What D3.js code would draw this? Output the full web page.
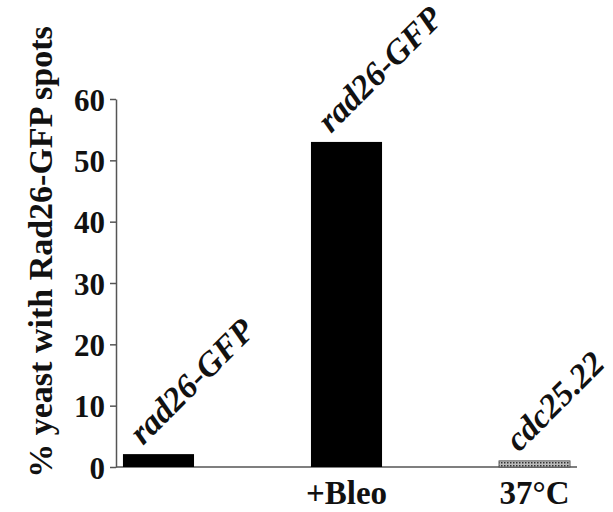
<!DOCTYPE html>
<html><head><script src="https://cdnjs.cloudflare.com/ajax/libs/d3/7.8.5/d3.min.js"></script></head>
<body style="margin:0">
<script>
// data
var groups = ["rad26", "bleo", "cdc25"];
var values = [2.1, 53.0, 1.0];
var barLabels = ["rad26-GFP", "rad26-GFP", "cdc25.22"];
var belowLabels = ["", "+Bleo", "37\u00B0C"];
var yTicks = [0, 10, 20, 30, 40, 50, 60];
var yTitle = "% yeast with Rad26-GFP spots";

var width = 613, height = 512;
var serif = "'Liberation Serif'";

var svg = d3.select("body").append("svg")
    .attr("width", width)
    .attr("height", height)
    .attr("font-family", "Liberation Serif")
    .attr("font-weight", "bold");

// pattern for the temperature-shift bar
var defs = svg.append("defs");
var pat = defs.append("pattern")
    .attr("id", "dots")
    .attr("width", 3).attr("height", 3)
    .attr("patternUnits", "userSpaceOnUse");
pat.append("rect").attr("width", 3).attr("height", 3).attr("fill", "#bbb");
pat.append("rect").attr("width", 1.5).attr("height", 1.5).attr("fill", "#333");

var x = d3.scaleBand()
    .domain(groups)
    .range([116, 577])
    .paddingInner(0.622)
    .paddingOuter(0.037);

var y = d3.scaleLinear()
    .domain([0, 60])
    .range([467, 99]);

// y axis
var yAxis = svg.append("g")
    .attr("transform", "translate(116,0)")
    .call(d3.axisLeft(y).tickValues(yTicks).tickSize(6).tickSizeOuter(0).tickPadding(5));
yAxis.attr("font-family", "Liberation Serif").attr("font-size", 31);
yAxis.selectAll("path, line").attr("stroke", "#555").attr("stroke-width", 1.5);
yAxis.selectAll("text")
    .style("font-family", serif)
    .style("font-weight", "bold")
    .style("font-size", "31px")
    .attr("fill", "#111")
    .attr("dy", "0.36em");

// baseline
svg.append("line")
    .attr("x1", 116).attr("x2", 577)
    .attr("y1", y(0)).attr("y2", y(0))
    .attr("stroke", "#555").attr("stroke-width", 1.5);

// bars
svg.append("g").selectAll("rect")
    .data(values)
    .enter().append("rect")
    .attr("x", (d, i) => x(groups[i]))
    .attr("width", x.bandwidth())
    .attr("y", d => y(d))
    .attr("height", d => y(0) - y(d))
    .attr("fill", (d, i) => i === 2 ? "url(#dots)" : "#000")
    .attr("stroke", (d, i) => i === 2 ? "#444" : "none")
    .attr("stroke-width", 0.8);

// rotated labels above bars
svg.append("g").selectAll("text")
    .data(values)
    .enter().append("text")
    .attr("transform", (d, i) => "translate(" + (x(groups[i]) + 20) + "," + (y(d) - 8) + ") rotate(-45)")
    .attr("font-family", "Liberation Serif")
    .style("font-family", serif)
    .style("font-weight", "bold")
    .style("font-style", "italic")
    .style("font-size", "34px")
    .attr("fill", "#111")
    .text((d, i) => barLabels[i]);

// labels below bars
svg.append("g").selectAll("text")
    .data(belowLabels)
    .enter().append("text")
    .attr("x", (d, i) => x(groups[i]) + x.bandwidth() / 2)
    .attr("y", 504)
    .attr("text-anchor", "middle")
    .attr("font-family", "Liberation Serif")
    .style("font-family", serif)
    .style("font-weight", "bold")
    .style("font-size", "33px")
    .attr("fill", "#111")
    .text(d => d);

// y title
svg.append("text")
    .attr("transform", "translate(52,252) rotate(-90)")
    .attr("text-anchor", "middle")
    .attr("font-family", "Liberation Serif")
    .style("font-family", serif)
    .style("font-weight", "bold")
    .style("font-size", "34px")
    .attr("fill", "#111")
    .text(yTitle);
</script>
</body>
</html>
